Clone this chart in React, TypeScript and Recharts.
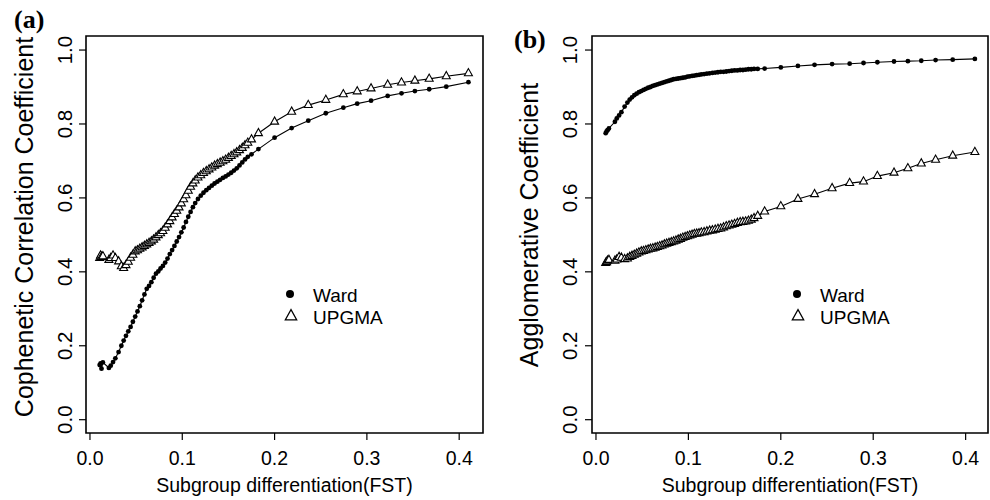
import React from "react";
import { LineChart, Line, XAxis, YAxis, ReferenceArea, Label } from "recharts";

// Shared subgroup differentiation (FST) values for every simulated point
const FST = [
  0.0105, 0.0115, 0.0125, 0.014, 0.0205, 0.0225, 0.025, 0.0275, 0.031, 0.034,
  0.0365, 0.039, 0.0415, 0.044, 0.0465, 0.049, 0.0515, 0.054, 0.0565, 0.059,
  0.0615, 0.064, 0.0665, 0.069, 0.0715, 0.074, 0.0765, 0.079, 0.0815, 0.084,
  0.0865, 0.089, 0.0915, 0.094, 0.0965, 0.099, 0.1015, 0.104, 0.1065, 0.109,
  0.1115, 0.114, 0.117, 0.12, 0.123, 0.126, 0.129, 0.132, 0.135, 0.138,
  0.141, 0.144, 0.147, 0.15, 0.153, 0.156, 0.159, 0.162, 0.165, 0.168,
  0.171, 0.175, 0.1825, 0.2, 0.2185, 0.2365, 0.2555, 0.2745, 0.2895, 0.3045,
  0.3225, 0.3375, 0.352, 0.3675, 0.386, 0.41,
];

// Panel (a): cophenetic correlation coefficient
const WARD_A = [
  0.148, 0.152, 0.138, 0.155, 0.14, 0.146, 0.156, 0.166, 0.183, 0.2,
  0.214, 0.227, 0.239, 0.251, 0.265, 0.279, 0.293, 0.307, 0.323, 0.339,
  0.354, 0.362, 0.372, 0.384, 0.395, 0.401, 0.409, 0.416, 0.425, 0.436,
  0.448, 0.459, 0.47, 0.482, 0.494, 0.507, 0.52, 0.535, 0.549, 0.562,
  0.575, 0.586, 0.597, 0.606, 0.614, 0.621, 0.627, 0.633, 0.639, 0.644,
  0.649, 0.654, 0.658, 0.663, 0.668, 0.674, 0.68, 0.688, 0.696, 0.704,
  0.711, 0.718, 0.732, 0.763, 0.789, 0.809, 0.829, 0.844, 0.855, 0.863,
  0.876, 0.883, 0.889, 0.894, 0.901, 0.913,
];
const UPGMA_A = [
  0.437, 0.444, 0.44, 0.442, 0.432, 0.437, 0.444, 0.437, 0.428, 0.415,
  0.41, 0.418, 0.427, 0.438, 0.446, 0.455, 0.458, 0.462, 0.466, 0.47,
  0.474, 0.478, 0.482, 0.487, 0.493, 0.499, 0.504, 0.51, 0.519, 0.528,
  0.537, 0.547, 0.556, 0.565, 0.574, 0.585, 0.596, 0.607, 0.619, 0.63,
  0.639, 0.647, 0.655, 0.661, 0.667, 0.672, 0.677, 0.682, 0.687, 0.691,
  0.695, 0.699, 0.703, 0.708, 0.713, 0.718, 0.723, 0.729, 0.735, 0.742,
  0.749, 0.758, 0.775, 0.806, 0.833, 0.851, 0.865, 0.88, 0.888, 0.896,
  0.906, 0.912, 0.917, 0.922, 0.929, 0.937,
];

// Panel (b): agglomerative coefficient
const WARD_B = [
  0.775, 0.78, 0.783, 0.788, 0.806, 0.815, 0.823, 0.832, 0.847, 0.858,
  0.866, 0.872, 0.878, 0.882, 0.886, 0.889, 0.892, 0.895, 0.898, 0.9,
  0.903, 0.905, 0.907, 0.909, 0.911, 0.913, 0.915, 0.917, 0.919, 0.921,
  0.922, 0.923, 0.924, 0.925, 0.926, 0.928, 0.929, 0.93, 0.931, 0.932,
  0.933, 0.934, 0.935, 0.936, 0.937, 0.938, 0.939, 0.94, 0.941, 0.941,
  0.942, 0.943, 0.944, 0.945, 0.945, 0.946, 0.946, 0.947, 0.948, 0.948,
  0.949, 0.949, 0.95, 0.953, 0.957, 0.96, 0.962, 0.963, 0.965, 0.967,
  0.969, 0.97, 0.971, 0.973, 0.974, 0.976,
];
const UPGMA_B = [
  0.424, 0.426, 0.43, 0.432, 0.43, 0.433, 0.44, 0.438, 0.434, 0.436,
  0.44, 0.443, 0.446, 0.449, 0.452, 0.455, 0.456, 0.458, 0.46, 0.462,
  0.463, 0.465, 0.467, 0.469, 0.471, 0.474, 0.476, 0.478, 0.48, 0.482,
  0.484, 0.487, 0.489, 0.492, 0.494, 0.496, 0.498, 0.5, 0.502, 0.503,
  0.504, 0.506, 0.507, 0.509, 0.511, 0.512, 0.514, 0.516, 0.517, 0.52,
  0.523, 0.525, 0.527, 0.529, 0.532, 0.534, 0.535, 0.536, 0.538, 0.541,
  0.545, 0.551, 0.563, 0.577, 0.597, 0.61, 0.626, 0.64, 0.644, 0.659,
  0.668, 0.68, 0.693, 0.703, 0.714, 0.724,
];

const X_TICKS = [0, 0.1, 0.2, 0.3, 0.4];
const Y_TICKS = [0, 0.2, 0.4, 0.6, 0.8, 1.0];
const SERIES_NAMES = ["Ward", "UPGMA"];
const X_TITLE = "Subgroup differentiation(FST)";

const SANS = "'Liberation Sans', Arial, Helvetica, sans-serif";
const SERIF = "'Liberation Serif', 'Times New Roman', serif";

const triPoints = (cx: number, cy: number, w: number) => {
  const h = w * 0.9;
  return `${cx},${cy - (h * 2) / 3} ${cx - w / 2},${cy + h / 3} ${cx + w / 2},${cy + h / 3}`;
};

const WardDot = (props: any) => {
  const { cx, cy, index } = props;
  if (cx == null || cy == null) return <g key={`w${index}`} />;
  return <circle key={`w${index}`} cx={cx} cy={cy} r={2.4} fill="#000" stroke="none" />;
};

const UpgmaDot = (props: any) => {
  const { cx, cy, index } = props;
  if (cx == null || cy == null) return <g key={`u${index}`} />;
  return (
    <polygon key={`u${index}`} points={triPoints(cx, cy, 8)} fill="#fff" stroke="#000" strokeWidth={1.1} />
  );
};

const makeYTick = (fontSize: number) => (props: any) => {
  const { x, y, payload } = props;
  return (
    <text
      x={x}
      y={y}
      transform={`rotate(-90 ${x} ${y})`}
      textAnchor="middle"
      fontSize={fontSize}
      fontFamily={SANS}
      fill="#000"
    >
      {Number(payload.value).toFixed(1)}
    </text>
  );
};

type PanelProps = {
  left: number;
  width: number;
  yAxisWidth: number;
  marginRight: number;
  yTickMargin: number;
  xDomain: [number, number];
  ward: number[];
  upgma: number[];
  yTitle: string;
  yTitleX: number;
  yTitleY: number;
  letter: string;
  letterX: number;
  letterY: number;
  legendX: number;
};

const Y_DOMAIN: [number, number] = [-0.036, 1.038];

function Panel(p: PanelProps) {
  const data = FST.map((x, i) => ({ x, ward: p.ward[i], upgma: p.upgma[i] }));
  const plotLeft = p.yAxisWidth;
  const plotRight = p.width - p.marginRight;
  const xCenter = (plotLeft + plotRight) / 2;
  const lx = p.legendX;

  const xLabel = (
    <Label
      content={() => (
        <g fontFamily={SANS} fill="#000">
          <text x={xCenter} y={492} textAnchor="middle" fontSize={19.5}>
            {X_TITLE}
          </text>
          <text x={p.letterX} y={p.letterY} fontFamily={SERIF} fontWeight="bold" fontSize={26}>
            {p.letter}
          </text>
          <circle cx={lx} cy={294} r={4} fill="#000" />
          <text x={lx + 23} y={302} fontSize={19}>
            {SERIES_NAMES[0]}
          </text>
          <polygon points={triPoints(lx + 1, 316.5, 11.5)} fill="#fff" stroke="#000" strokeWidth={1.2} />
          <text x={lx + 23} y={324} fontSize={19}>
            {SERIES_NAMES[1]}
          </text>
        </g>
      )}
    />
  );

  const yLabel = (
    <Label
      content={() => (
        <text
          x={p.yTitleX}
          y={p.yTitleY}
          transform={`rotate(-90 ${p.yTitleX} ${p.yTitleY})`}
          textAnchor="middle"
          fontSize={25}
          fontFamily={SANS}
          fill="#000"
        >
          {p.yTitle}
        </text>
      )}
    />
  );

  return (
    <div style={{ position: "absolute", left: p.left, top: 0 }}>
      <LineChart
        width={p.width}
        height={500}
        data={data}
        margin={{ top: 36, right: p.marginRight, bottom: 0, left: 0 }}
      >
        <XAxis
          type="number"
          dataKey="x"
          domain={p.xDomain}
          allowDataOverflow
          ticks={X_TICKS}
          tickFormatter={(v: number) => v.toFixed(1)}
          axisLine={false}
          tickLine={{ stroke: "#000", strokeWidth: 1.2 }}
          tickSize={7}
          tickMargin={11}
          height={67}
          tick={{ fill: "#000", fontSize: 19.5, fontFamily: SANS }}
          interval={0}
          label={xLabel}
        />
        <YAxis
          type="number"
          domain={Y_DOMAIN}
          allowDataOverflow
          ticks={Y_TICKS}
          axisLine={false}
          tickLine={{ stroke: "#000", strokeWidth: 1.2 }}
          tickSize={7}
          tickMargin={p.yTickMargin}
          width={p.yAxisWidth}
          tick={makeYTick(20.5)}
          interval={0}
          label={yLabel}
        />
        <ReferenceArea
          x1={p.xDomain[0]}
          x2={p.xDomain[1]}
          y1={Y_DOMAIN[0]}
          y2={Y_DOMAIN[1]}
          fill="#fff"
          fillOpacity={0}
          stroke="#000"
          strokeWidth={1.6}
          ifOverflow="visible"
        />
        <Line
          type="linear"
          dataKey="ward"
          name={SERIES_NAMES[0]}
          stroke="#000"
          strokeWidth={1.1}
          dot={WardDot}
          activeDot={false}
          isAnimationActive={false}
        />
        <Line
          type="linear"
          dataKey="upgma"
          name={SERIES_NAMES[1]}
          stroke="#000"
          strokeWidth={1.1}
          dot={UpgmaDot}
          activeDot={false}
          isAnimationActive={false}
        />
      </LineChart>
    </div>
  );
}

export default function App() {
  return (
    <div
      style={{
        position: "absolute",
        left: 0,
        top: 0,
        width: 990,
        height: 500,
        background: "#fff",
        overflow: "hidden",
      }}
    >
      <Panel
        left={0}
        width={495}
        yAxisWidth={86}
        marginRight={12}
        yTickMargin={7}
        xDomain={[-0.0043, 0.4258]}
        ward={WARD_A}
        upgma={UPGMA_A}
        yTitle="Cophenetic Correlation Coefficient"
        yTitleX={33}
        yTitleY={227}
        letter="(a)"
        letterX={14}
        letterY={28}
        legendX={290}
      />
      <Panel
        left={495}
        width={495}
        yAxisWidth={97}
        marginRight={2}
        yTickMargin={8}
        xDomain={[-0.0043, 0.4242]}
        ward={WARD_B}
        upgma={UPGMA_B}
        yTitle="Agglomerative Coefficient"
        yTitleX={43}
        yTitleY={225}
        letter="(b)"
        letterX={19}
        letterY={48}
        legendX={302}
      />
    </div>
  );
}
